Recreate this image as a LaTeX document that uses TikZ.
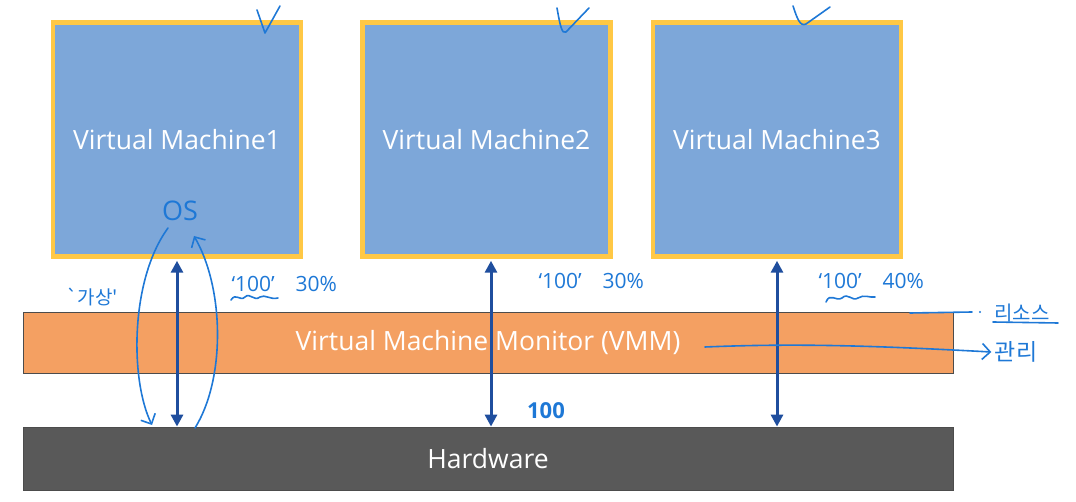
\documentclass[tikz,border=0pt]{standalone}
\usepackage{fontspec}
\setmainfont{Open Sans}
\newfontfamily\kr{Noto Sans CJK KR}
\usepackage{tikz}
\usetikzlibrary{arrows.meta}
\definecolor{vmblue}{HTML}{7DA7D9}
\definecolor{vmgold}{HTML}{FFC845}
\definecolor{vmmorange}{HTML}{F4A062}
\definecolor{hwgrey}{HTML}{595959}
\definecolor{linkblue}{HTML}{1F4E9E}
\definecolor{pen}{HTML}{1E78D6}
\def\hand{\draw[pen,line width=1.6pt,line cap=round,line join=round]}
\def\link{\draw[linkblue,line width=3pt,{Triangle[length=12pt,width=12pt]}-{Triangle[length=12pt,width=12pt]}]}
\tikzset{
  vmbox/.style={draw=vmgold,fill=vmblue,line width=4.5pt,minimum width=248pt,minimum height=234pt,
    text=white,font=\fontsize{26.5}{30}\selectfont},
  layer/.style={draw=black!70,line width=0.8pt,minimum width=930pt,text=white,font=\fontsize{26.5}{30}\selectfont},
  note/.style={pen,font=\fontsize{21}{24}\selectfont}
}

\begin{document}
\begin{tikzpicture}[x=1pt,y=-1pt]
  \useasboundingbox (0,0) rectangle (1076,502);
  % guests
  \node[vmbox] (vm1) at (177,139.5) {Virtual Machine1};
  \node[vmbox] (vm2) at (486.5,139.5) {Virtual Machine2};
  \node[vmbox] (vm3) at (777,139.5) {Virtual Machine3};
  % layers
  \node[layer,fill=vmmorange,minimum height=61pt] (vmm) at (488,342.5) {Virtual Machine Monitor (VMM)};
  \node[layer,fill=hwgrey,minimum height=63pt] (hw) at (488,458.5) {Hardware};
  \link ([yshift=-2pt]vm1.south) -- (vm1.south |- hw.north);
  \link ([xshift=4.5pt,yshift=-2pt]vm2.south) -- ([xshift=4.5pt]vm2.south |- hw.north);
  \link ([yshift=-2pt]vm3.south) -- (vm3.south |- hw.north);
  % pen notes
  \hand (257,10) -- (265,33) -- (280,6);
  \hand (557,8) .. controls (560,25) and (562,35) .. (566,32) -- (589,8);
  \hand (793,6) .. controls (797,18) and (800,27) .. (806,24) -- (830,7);
  \node[pen,font=\fontsize{27}{30}\selectfont] (os) at (180,211) {OS};
  \coordinate (osl) at (168,228);
  \coordinate (osr) at (194,236);
  \coordinate (hwl) at (152,425);
  \coordinate (hwr) at (195,428);
  \hand[-{Straight Barb[length=8pt]}] (osl) .. controls (130,280) and (130,380) .. (hwl);
  \hand[-{Straight Barb[length=8pt]}] (hwr) .. controls (225,380) and (225,290) .. (osr);
  \node[pen,font=\kr\fontsize{19}{22}\selectfont,inner sep=0pt] (gasang) at (92,297) {`가상'};
  \node[note,anchor=west] (p1) at (228,284) {`100'\quad 30\%};
  \hand (231,300) .. controls (236,292) and (240,302) .. (245,297) .. controls (250,292) and (254,302) .. (260,297) .. controls (265,294) and (270,300) .. (278,298);
  \node[note,anchor=west] (p2) at (535,281) {`100'\quad 30\%};
  \node[note,anchor=west] (p3) at (815,281) {`100'\quad 40\%};
  \hand (826,302) .. controls (830,292) and (836,302) .. (842,298) .. controls (848,292) and (852,302) .. (858,298) .. controls (864,294) and (870,298) .. (875,297);
  \node[pen,font=\kr\fontsize{20}{22}\selectfont] (res) at (1022,313) {리소스};
  \node[pen,font=\kr\fontsize{23}{25}\selectfont] (mgmt) at (1016,352) {관리};
  \hand (910,313) -- (972,312);
  \hand (993,322) -- (1058,323);
  \fill[pen] (980,312) circle (1.2pt);
  \hand[-{Straight Barb[length=8pt]}] (705,347) .. controls (800,343) and (880,346) .. (mgmt.west);
  \node[pen,font=\fontsize{22}{24}\selectfont\bfseries] (hundred) at (546,411) {100};
\end{tikzpicture}
\end{document}
